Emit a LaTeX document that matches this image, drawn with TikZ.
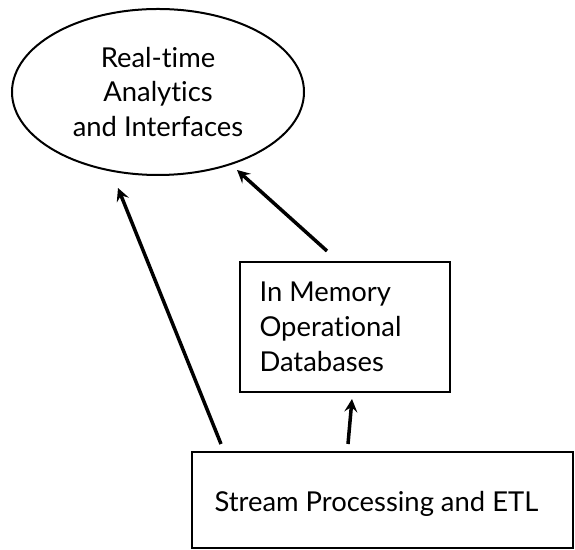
\documentclass[tikz,border=0pt]{standalone}
\usepackage{fontspec}
\setmainfont{Lato}[RawFeature=-liga]
\usetikzlibrary{shapes.geometric,arrows.meta}
\begin{document}
\begin{tikzpicture}[x=1bp,y=1bp,
  lbl/.style={font=\fontsize{27.5}{35}\selectfont},
  ellbox/.style={draw,ellipse,line width=2bp,inner sep=0pt,minimum width=292bp,minimum height=166bp,align=center,lbl},
  rectbox/.style={draw,rectangle,line width=2bp,inner sep=0pt,lbl},
  flow/.style={line width=3.5bp,-{Stealth[length=13bp,width=13bp,inset=5bp]}}]
\useasboundingbox (0,0) rectangle (575,550);
% consumers, stores and the ingest stage
\node[ellbox] (ui) at (158,458) {Real-time\\Analytics\\and Interfaces};
\node[rectbox,minimum width=210bp,minimum height=130bp] (db) at (345,223) {};
\node[lbl,anchor=west,align=left] (dbtext) at (256,223) {In Memory\\Operational\\Databases};
\node[rectbox,minimum width=381bp,minimum height=96bp] (etl) at (382.5,50) {};
\node[lbl,anchor=west] (etltext) at (211,46) {Stream Processing and ETL};
% data flow
\draw[flow] ([xshift=30bp,yshift=7bp]etl.north west) -- ([xshift=-40bp,yshift=-96bp]ui.center);
\draw[flow] ([xshift=-18bp,yshift=10bp]db.north) -- ([xshift=79bp,yshift=-78bp]ui.center);
\draw[flow] ([xshift=-34.5bp,yshift=7bp]etl.north) -- ([xshift=7bp,yshift=-6bp]db.south);
\end{tikzpicture}
\end{document}
